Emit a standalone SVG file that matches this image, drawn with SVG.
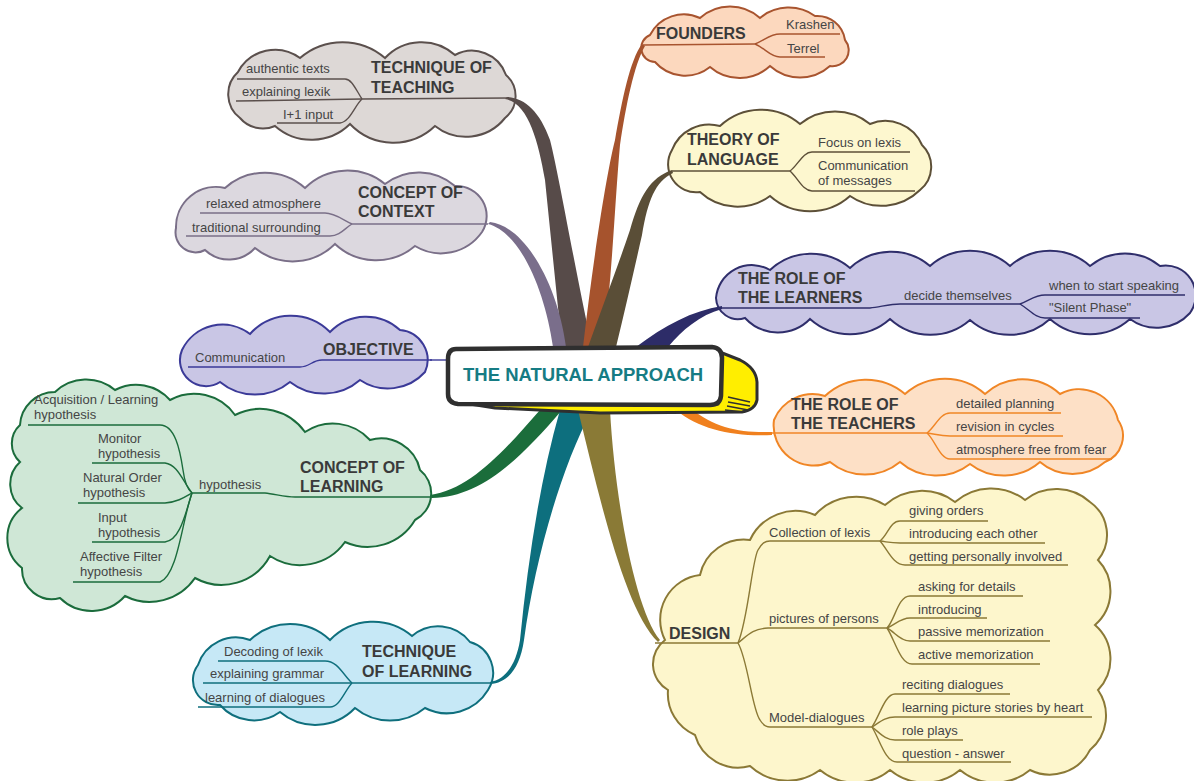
<svg xmlns="http://www.w3.org/2000/svg" width="1194" height="781" viewBox="0 0 1194 781">
<style>
.t{font-family:"Liberation Sans",Arial,sans-serif;font-size:13px;fill:#454545}
.h{font-family:"Liberation Sans",Arial,sans-serif;font-size:16px;font-weight:bold;fill:#3a3a3a}
.cl{stroke-width:2}
.ln{fill:none;stroke-width:1.4}
.c1{stroke:#5b504d}.c2{stroke:#a8542f}.c3{stroke:#5d5038}.c4{stroke:#7a6f88}.c5{stroke:#2f2e6b}.c6{stroke:#3b3a98}.c7{stroke:#f08626}.c8{stroke:#1b6c3c}.c9{stroke:#0f6f7d}.c10{stroke:#8b7936}
</style>
<rect width="1194" height="781" fill="#ffffff"/>

<g id="technique-of-teaching">
<path class="cl c1" fill="#ddd8d6" d="M238,72 A42 42 0 0 1 300,58 A65 65 0 0 1 385,58 A50 50 0 0 1 455,55 A36 36 0 0 1 506,75 A28 28 0 0 1 505,118 A50 50 0 0 1 435,126 A60 60 0 0 1 350,124 A55 55 0 0 1 275,126 A30 30 0 0 1 240,118 A30 30 0 0 1 238,72 Z"/>
<text class="h" x="371" y="73">TECHNIQUE OF</text>
<text class="h" x="371" y="93">TEACHING</text>
<text class="t" x="246" y="73">authentic texts</text>
<text class="t" x="242" y="96">explaining lexik</text>
<text class="t" x="283" y="119">I+1 input</text>
</g>

<g id="founders">
<path class="cl c2" fill="#fcd8be" d="M650,35 A38 38 0 0 1 700,18 A45 45 0 0 1 760,18 A45 45 0 0 1 815,16 A28 28 0 0 1 845,40 A16 16 0 0 1 830,66 A45 45 0 0 1 770,66 A45 45 0 0 1 710,67 A40 40 0 0 1 655,62 A14 14 0 0 1 650,35 Z"/>
<text class="h" x="656" y="39">FOUNDERS</text>
<text class="t" x="786" y="29">Krashen</text>
<text class="t" x="787" y="53">Terrel</text>
</g>

<g id="theory-of-language">
<path class="cl c3" fill="#fdf7cf" d="M672,150 A40 40 0 0 1 720,126 A60 60 0 0 1 800,124 A55 55 0 0 1 870,124 A40 40 0 0 1 922,145 A30 30 0 0 1 920,190 A55 55 0 0 1 850,196 A60 60 0 0 1 770,196 A55 55 0 0 1 700,192 A28 28 0 0 1 672,150 Z"/>
<text class="h" x="687" y="145">THEORY OF</text>
<text class="h" x="687" y="165">LANGUAGE</text>
<text class="t" x="818" y="147">Focus on lexis</text>
<text class="t" x="818" y="170">Communication</text>
<text class="t" x="818" y="185">of messages</text>
</g>

<g id="concept-of-context">
<path class="cl c4" fill="#dcd8df" d="M176,228 A40 40 0 0 1 225,188 A60 60 0 0 1 305,188 A60 60 0 0 1 385,184 A55 55 0 0 1 455,186 A30 30 0 0 1 482,232 A50 50 0 0 1 415,246 A60 60 0 0 1 335,244 A60 60 0 0 1 255,248 A35 35 0 0 1 205,250 A20 20 0 0 1 176,228 Z"/>
<text class="h" x="358" y="198">CONCEPT OF</text>
<text class="h" x="358" y="217">CONTEXT</text>
<text class="t" x="206" y="208">relaxed atmosphere</text>
<text class="t" x="192" y="232">traditional surrounding</text>
</g>

<g id="role-of-learners">
<path class="cl c5" fill="#c9c6e5" d="M716,298 A36 36 0 0 1 770,270 A60 60 0 0 1 850,268 A60 60 0 0 1 930,266 A60 60 0 0 1 1010,266 A60 60 0 0 1 1090,266 A55 55 0 0 1 1160,266 A30 30 0 0 1 1190,313 A45 45 0 0 1 1130,319 A60 60 0 0 1 1050,319 A60 60 0 0 1 970,320 A60 60 0 0 1 890,319 A60 60 0 0 1 810,319 A45 45 0 0 1 745,318 A22 22 0 0 1 716,298 Z"/>
<text class="h" x="738" y="284">THE ROLE OF</text>
<text class="h" x="738" y="303">THE LEARNERS</text>
<text class="t" x="904" y="300">decide themselves</text>
<text class="t" x="1049" y="290">when to start speaking</text>
<text class="t" x="1049" y="312">"Silent Phase"</text>
</g>

<g id="objective">
<path class="cl c6" fill="#c9c6e5" d="M182,350 A45 45 0 0 1 250,334 A55 55 0 0 1 330,332 A50 50 0 0 1 400,330 A30 30 0 0 1 425,372 A50 50 0 0 1 360,380 A55 55 0 0 1 290,382 A55 55 0 0 1 220,382 A26 26 0 0 1 182,350 Z"/>
<text class="h" x="323" y="355">OBJECTIVE</text>
<text class="t" x="195" y="362">Communication</text>
</g>

<g id="role-of-teachers">
<path class="cl c7" fill="#fde0c6" d="M774,420 A42 42 0 0 1 825,396 A60 60 0 0 1 905,394 A60 60 0 0 1 985,394 A55 55 0 0 1 1060,394 A40 40 0 0 1 1118,420 A28 28 0 0 1 1105,462 A50 50 0 0 1 1040,462 A55 55 0 0 1 970,464 A55 55 0 0 1 900,462 A55 55 0 0 1 830,462 A40 40 0 0 1 774,420 Z"/>
<text class="h" x="791" y="410">THE ROLE OF</text>
<text class="h" x="791" y="429">THE TEACHERS</text>
<text class="t" x="956" y="408">detailed planning</text>
<text class="t" x="956" y="431">revision in cycles</text>
<text class="t" x="956" y="454">atmosphere free from fear</text>
</g>

<g id="concept-of-learning">
<path class="cl c8" fill="#cfe7d6" d="M20,425 A35 35 0 0 1 55,392 A45 45 0 0 1 115,390 A45 45 0 0 1 170,400 A50 50 0 0 1 235,415 A55 55 0 0 1 305,432 A50 50 0 0 1 370,440 A40 40 0 0 1 420,470 A30 30 0 0 1 415,520 A55 55 0 0 1 345,542 A55 55 0 0 1 270,556 A55 55 0 0 1 195,578 A55 55 0 0 1 125,596 A45 45 0 0 1 60,598 A30 30 0 0 1 22,568 A38 38 0 0 1 22,508 A30 30 0 0 1 20,462 A25 25 0 0 1 20,425 Z"/>
<text class="h" x="300" y="473">CONCEPT OF</text>
<text class="h" x="300" y="492">LEARNING</text>
<text class="t" x="199" y="489">hypothesis</text>
<text class="t" x="34" y="404">Acquisition / Learning</text>
<text class="t" x="34" y="419">hypothesis</text>
<text class="t" x="98" y="443">Monitor</text>
<text class="t" x="98" y="458">hypothesis</text>
<text class="t" x="83" y="482">Natural Order</text>
<text class="t" x="83" y="497">hypothesis</text>
<text class="t" x="98" y="522">Input</text>
<text class="t" x="98" y="537">hypothesis</text>
<text class="t" x="80" y="561">Affective Filter</text>
<text class="t" x="80" y="576">hypothesis</text>
</g>

<g id="technique-of-learning">
<path class="cl c9" fill="#c6e8f6" d="M198,665 A40 40 0 0 1 250,640 A58 58 0 0 1 330,640 A60 60 0 0 1 412,636 A40 40 0 0 1 470,642 A32 32 0 0 1 488,690 A48 48 0 0 1 425,708 A55 55 0 0 1 355,708 A55 55 0 0 1 280,712 A45 45 0 0 1 220,705 A25 25 0 0 1 198,665 Z"/>
<text class="h" x="362" y="657">TECHNIQUE</text>
<text class="h" x="362" y="677">OF LEARNING</text>
<text class="t" x="224" y="656">Decoding of lexik</text>
<text class="t" x="210" y="678">explaining grammar</text>
<text class="t" x="205" y="702">learning of dialogues</text>
</g>

<g id="design">
<path class="cl c10" fill="#fdf6cc" d="M665,640 A45 45 0 0 1 700,575 A45 45 0 0 1 750,540 A50 50 0 0 1 815,515 A55 55 0 0 1 885,505 A55 55 0 0 1 955,502 A55 55 0 0 1 1025,500 A50 50 0 0 1 1090,502 A40 40 0 0 1 1098,560 A45 45 0 0 1 1095,625 A45 45 0 0 1 1098,690 A45 45 0 0 1 1090,750 A45 45 0 0 1 1030,770 A55 55 0 0 1 960,770 A55 55 0 0 1 890,770 A55 55 0 0 1 820,770 A55 55 0 0 1 750,766 A45 45 0 0 1 695,735 A45 45 0 0 1 668,690 A30 30 0 0 1 665,640 Z"/>
<text class="h" x="669" y="639">DESIGN</text>
<text class="t" x="769" y="537">Collection of lexis</text>
<text class="t" x="769" y="623">pictures of persons</text>
<text class="t" x="769" y="722">Model-dialogues</text>
<text class="t" x="909" y="515">giving orders</text>
<text class="t" x="909" y="538">introducing each other</text>
<text class="t" x="909" y="561">getting personally involved</text>
<text class="t" x="918" y="591">asking for details</text>
<text class="t" x="918" y="614">introducing</text>
<text class="t" x="918" y="636">passive memorization</text>
<text class="t" x="918" y="659">active memorization</text>
<text class="t" x="902" y="689">reciting dialogues</text>
<text class="t" x="902" y="712">learning picture stories by heart</text>
<text class="t" x="902" y="735">role plays</text>
<text class="t" x="902" y="758">question - answer</text>
</g>

<g id="connectors">
<path fill="#574b49" d="M505,99 C528,103 538,140 545,180 L562,347 L592,347 C575,270 560,180 550,140 C540,112 525,98 507,97 Z"/>
<path fill="#7a6e8b" d="M488,224 C520,232 545,290 553,347 L566,347 C558,285 525,226 490,222 Z"/>
<path fill="#a6532d" d="M583,347 C592,270 605,180 615,140 C622,100 630,60 642,44 L645,46 C634,65 626,105 620,145 C615,200 612,280 603,347 Z"/>
<path fill="#5a4e37" d="M588,347 C605,300 620,260 630,230 C640,195 650,178 672,170 L673,173 C655,182 648,200 642,235 C633,275 625,310 616,347 Z"/>
<path fill="#2d2c68" d="M636,347 C665,325 692,311 722,306 L722,309 C700,315 682,330 668,347 Z"/>
<path fill="#f0801e" d="M690,408 C715,428 740,433 772,432 L772,435 C735,437 700,430 676,410 Z"/>
<path fill="#1b6d3b" d="M540,410 C505,450 470,490 430,495 L432,498 C478,497 515,465 562,410 Z"/>
<path fill="#0d6f7e" d="M560,410 C540,480 528,560 520,640 C516,665 505,680 490,682 L490,684 C508,683 520,668 524,640 C535,560 560,470 592,410 Z"/>
<path fill="#8a7a36" d="M578,410 C600,500 625,610 658,642 L660,640 C635,610 615,500 610,410 Z"/>
<path class="ln c6" d="M430,360 L450,360"/>
<path class="ln c1" d="M362,99 L508,98"/>
<path class="ln c1" d="M237,79 L345,79 C352,79 356,90 362,99"/>
<path class="ln c1" d="M236,101 L362,99"/>
<path class="ln c1" d="M277,123 L340,123 C350,122 355,105 362,99"/>
<path class="ln c2" d="M643,45 L755,44"/>
<path class="ln c2" d="M755,44 C765,40 770,34 780,34 L840,34"/>
<path class="ln c2" d="M755,44 C765,48 770,57 780,57 L825,57"/>
<path class="ln c3" d="M672,171 L790,171"/>
<path class="ln c3" d="M790,171 C798,165 803,152 812,152 L910,152"/>
<path class="ln c3" d="M790,171 C798,178 803,191 812,191 L915,191"/>
<path class="ln c4" d="M352,224 L488,224"/>
<path class="ln c4" d="M200,213 L325,213 C335,213 343,220 352,224"/>
<path class="ln c4" d="M186,236 L330,236 C340,236 345,228 352,224"/>
<path class="ln c5" d="M722,308 L870,308 C880,307 890,304 900,304 L1020,304"/>
<path class="ln c5" d="M1020,304 C1030,300 1035,295 1045,295 L1185,295"/>
<path class="ln c5" d="M1020,304 C1030,310 1035,318 1045,318 L1140,318"/>
<path class="ln c6" d="M188,367 L300,367 C310,367 312,360 322,360 L432,360"/>
<path class="ln c7" d="M772,433 L927,433"/>
<path class="ln c7" d="M927,433 C935,427 940,413 950,413 L1061,413"/>
<path class="ln c7" d="M927,433 C935,434 940,436 950,436 L1063,436"/>
<path class="ln c7" d="M927,433 C935,440 940,459 950,459 L1112,459"/>
<path class="ln c8" d="M192,493 L265,493 C275,494 285,497 295,497 L432,497"/>
<path class="ln c8" d="M28,425 L160,425 C175,425 180,450 183,470 C185,485 188,490 192,493"/>
<path class="ln c8" d="M92,463 L165,463 C178,465 182,480 192,493"/>
<path class="ln c8" d="M78,503 L165,503 C178,502 185,497 192,493"/>
<path class="ln c8" d="M92,542 L165,542 C180,540 185,515 192,493"/>
<path class="ln c8" d="M73,582 L160,582 C178,575 182,520 192,493"/>
<path class="ln c9" d="M352,683 L490,683"/>
<path class="ln c9" d="M218,661 L325,661 C338,661 343,675 352,683"/>
<path class="ln c9" d="M203,683 L352,683"/>
<path class="ln c9" d="M198,707 L330,707 C340,707 345,690 352,683"/>
<path class="ln c10" d="M655,643 L738,643"/>
<path class="ln c10" d="M738,643 C748,620 752,560 758,550 C762,543 765,541 770,541 L880,541"/>
<path class="ln c10" d="M738,643 C748,635 752,629 768,628 L887,628"/>
<path class="ln c10" d="M738,643 C748,660 752,710 760,720 C763,725 766,727 770,727 L872,727"/>
<path class="ln c10" d="M880,541 C888,535 890,521 900,521 L988,521"/>
<path class="ln c10" d="M880,541 C888,542 890,543 900,543 L1045,543"/>
<path class="ln c10" d="M880,541 C888,550 893,565 905,565 L1068,565"/>
<path class="ln c10" d="M887,628 C895,620 898,596 910,596 L1023,596"/>
<path class="ln c10" d="M887,628 C895,625 900,618 910,618 L987,618"/>
<path class="ln c10" d="M887,628 C895,632 900,641 910,641 L1050,641"/>
<path class="ln c10" d="M887,628 C895,640 900,664 912,664 L1040,664"/>
<path class="ln c10" d="M872,727 C880,715 885,694 895,694 L1010,694"/>
<path class="ln c10" d="M872,727 C880,722 885,717 895,717 L1092,717"/>
<path class="ln c10" d="M872,727 C880,733 885,740 895,740 L963,740"/>
<path class="ln c10" d="M872,727 C880,740 885,762 897,762 L1011,762"/>
</g>

<g id="the-natural-approach">
<path fill="#ffee00" stroke="#2f2f2f" stroke-width="3" stroke-linejoin="round" d="M712,349 L740,360 Q756,368 757,382 L757,400 Q755,410 742,412 L600,413 L495,408 L470,404 L718,404 Z"/>
<g stroke="#2f2f2f" stroke-width="1.5">
<line x1="728" y1="397" x2="750" y2="402"/>
<line x1="728" y1="402" x2="750" y2="406"/>
<line x1="727" y1="406" x2="748" y2="410"/>
<line x1="725" y1="410" x2="744" y2="412"/>
</g>
<path fill="#ffffff" stroke="#2f2f2f" stroke-width="4.5" stroke-linejoin="round" d="M456,349 L712,347 Q722,348 722,358 L721,396 Q720,405 710,405 L458,404 Q448,403 448,394 L448,359 Q448,349 456,349 Z"/>
<text x="463" y="381" style="font-family:'Liberation Sans',Arial,sans-serif;font-size:18.5px;font-weight:bold;fill:#167c84">THE NATURAL APPROACH</text>
</g>
</svg>
